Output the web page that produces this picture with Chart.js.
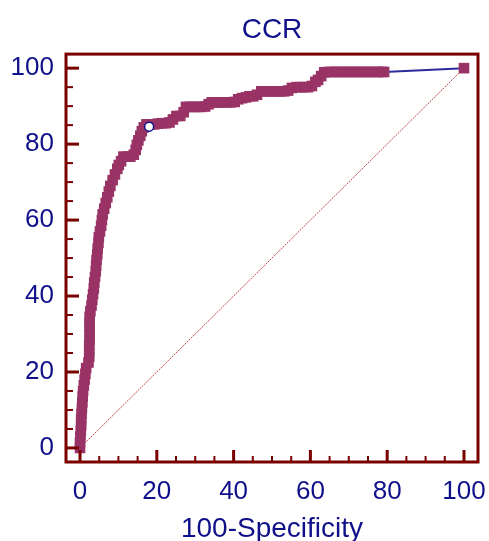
<!DOCTYPE html>
<html>
<head>
<meta charset="utf-8">
<script src="https://cdn.jsdelivr.net/npm/chart.js@4/dist/chart.umd.min.js"></script>
<style>
  html, body { margin: 0; padding: 0; background: #fff; }
  #wrap { width: 489px; height: 541px; }
</style>
</head>
<body>
<div id="wrap"><canvas id="roc"></canvas></div>
<script>
// ROC curve for CCR
var fpr = [0, 0, 0.1, 0.2, 0.3, 0.3, 0.4, 0.5, 0.6, 0.7, 0.8, 1.0, 1.2, 1.4, 1.6, 2.2, 2.4, 2.4, 2.4, 2.5,
  2.5, 2.5, 2.5, 2.5, 2.7, 3.0, 3.2, 3.4, 3.6, 3.7, 3.9, 4.1, 4.2, 4.3, 4.5, 4.6, 4.8, 4.9, 5.2, 5.5,
  5.7, 5.9, 6.3, 6.7, 7.1, 7.5, 7.9, 8.5, 9.1, 9.7, 10.1, 10.7, 11.3, 12.2, 13.1, 14.0, 14.5, 14.8, 15.2, 15.7,
  16.1, 16.6, 17.3, 18.3, 19.3, 20.3, 21.3, 22.3, 23.3, 24.2, 25.1, 26.1, 27.0, 27.6, 28.6, 29.6, 30.6, 31.6, 32.6, 33.5,
  34.3, 35.3, 36.3, 37.3, 38.3, 39.3, 40.3, 41.2, 42.2, 43.2, 44.1, 45.1, 46.1, 47.2, 48.2, 49.2, 50.2, 51.2, 52.2, 53.2,
  54.2, 55.2, 56.4, 57.4, 58.4, 59.4, 60.4, 61.3, 62.0, 62.8, 63.6, 64.6, 65.6, 66.6, 67.6, 68.6, 69.6, 70.6, 71.6, 72.6,
  73.6, 74.6, 75.6, 76.6, 77.6, 78.6, 79.2, 100];
var sens = [0, 1.5, 3, 4.5, 6, 7.5, 9, 10.5, 12, 13.5, 15, 16.5, 18, 19.5, 21, 22.5, 24, 25.5, 27, 28.5,
  30, 31.5, 33, 34.5, 36, 37.5, 39, 40.5, 42, 43.5, 45, 46.5, 48, 49.5, 51, 52.5, 54, 55.5, 57, 58.5,
  60, 61.5, 63, 64.5, 66, 67.5, 69, 70.5, 72, 73.5, 74.5, 75.5, 76.7, 76.7, 76.7, 77.2, 78.5, 79.8, 81, 82.2,
  83.4, 84.4, 85.2, 85.2, 85.2, 85.4, 85.5, 85.5, 85.7, 86.5, 87.4, 87.4, 88.4, 89.8, 89.8, 89.8, 89.8, 89.8, 89.9, 90.5,
  91, 91, 91, 91, 91, 91, 91.1, 91.8, 92.1, 92.3, 92.6, 92.6, 93, 93.9, 93.9, 93.9, 93.9, 93.9, 93.9, 93.9,
  94.1, 94.8, 95, 95, 95, 95, 95.3, 96.4, 96.9, 97.9, 98.9, 99, 99, 99, 99, 99, 99, 99, 99, 99,
  99, 99, 99, 99, 99, 99, 99, 100];
// optimal criterion (Youden)
var cutX = [18.0];
var cutY = [84.6];
// reference diagonal
var diagX = [0, 100];
var diagY = [0, 100];
var xTicks = [0, 20, 40, 60, 80, 100];
var yTicks = [0, 20, 40, 60, 80, 100];

var navy = "#10108a";
var boxColor = "#7a0000";
var markColor = "#993366";
var fontFam = "'Liberation Sans', Arial, sans-serif";

function toPts(xs, ys) {
  return xs.map(function (v, i) { return { x: v, y: ys[i] }; });
}

// frame with inward ticks, like the original plot
var frame = {
  id: "frame",
  afterDatasetsDraw: function (chart) {
    var ctx = chart.ctx, a = chart.chartArea, x = chart.scales.x, y = chart.scales.y;
    ctx.save();
    ctx.strokeStyle = boxColor;
    for (var v = 0; v <= 100; v += 5) {
      var major = v % 20 === 0;
      ctx.lineWidth = major ? 3 : 2;
      var px = x.getPixelForValue(v);
      ctx.beginPath();
      ctx.moveTo(px, a.bottom);
      ctx.lineTo(px, a.bottom - (major ? 12 : 6));
      ctx.stroke();
      var py = y.getPixelForValue(v);
      ctx.beginPath();
      ctx.moveTo(a.left, py);
      ctx.lineTo(a.left + (major ? 13 : 7), py);
      ctx.stroke();
    }
    ctx.lineWidth = 3;
    ctx.strokeRect(a.left, a.top, a.right - a.left, a.bottom - a.top);
    ctx.restore();
  }
};

new Chart(document.getElementById("roc"), {
  type: "scatter",
  data: {
    datasets: [
      {
        label: "criterion",
        data: toPts(cutX, cutY),
        pointStyle: "circle",
        pointRadius: 4.5,
        pointBackgroundColor: "#fff",
        pointBorderColor: navy,
        pointBorderWidth: 1.5
      },
      {
        label: "CCR",
        data: toPts(fpr, sens),
        showLine: true,
        borderColor: "#2b2b9e",
        borderWidth: 2,
        pointStyle: "rect",
        pointRadius: 7.5,
        pointBackgroundColor: markColor,
        pointBorderWidth: 0
      },
      {
        label: "diagonal",
        data: toPts(diagX, diagY),
        showLine: true,
        borderColor: "rgba(190,50,50,0.9)",
        borderWidth: 1,
        borderDash: [2, 1],
        pointRadius: 0
      }
    ]
  },
  options: {
    responsive: true,
    maintainAspectRatio: false,
    animation: false,
    events: [],
    layout: { padding: { left: 0, right: 11, top: 0, bottom: 0 } },
    plugins: {
      legend: { display: false },
      tooltip: { enabled: false },
      title: {
        display: true,
        fullSize: false,
        text: "CCR",
        color: navy,
        font: { family: fontFam, size: 28, weight: "normal" },
        padding: { top: 13.5, bottom: 7 }
      }
    },
    scales: {
      x: {
        type: "linear",
        min: -3.65,
        max: 103.65,
        grid: { display: false, drawTicks: false },
        border: { display: false },
        afterBuildTicks: function (s) { s.ticks = xTicks.map(function (v) { return { value: v }; }); },
        afterFit: function (s) { s.height = 79; s.paddingLeft = 0; s.paddingRight = 0; },
        ticks: { color: navy, padding: 14, maxRotation: 0, font: { family: fontFam, size: 26 } },
        title: {
          display: true,
          text: "100-Specificity",
          color: navy,
          font: { family: fontFam, size: 28 },
          padding: { top: 0, bottom: -5.5 }
        }
      },
      y: {
        type: "linear",
        min: -3.7,
        max: 103.7,
        grid: { display: false, drawTicks: false },
        border: { display: false },
        afterBuildTicks: function (s) { s.ticks = yTicks.map(function (v) { return { value: v }; }); },
        afterFit: function (s) { s.width = 66; s.paddingTop = 0; s.paddingBottom = 0; },
        ticks: { color: navy, padding: 12, font: { family: fontFam, size: 26 } }
      }
    }
  },
  plugins: [frame]
});
</script>
</body>
</html>
